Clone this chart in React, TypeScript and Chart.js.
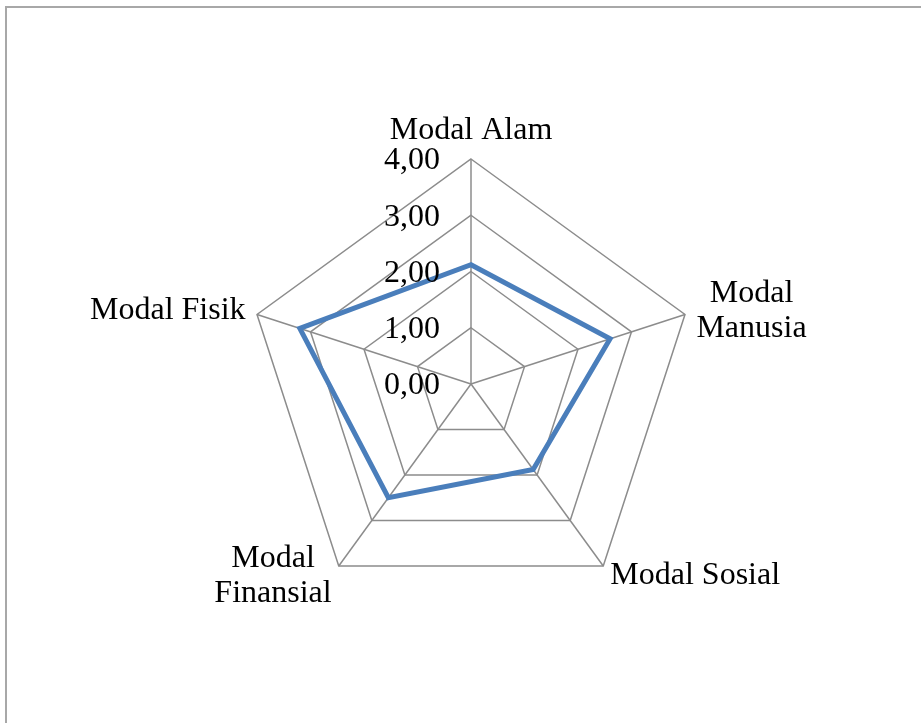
import React, { useEffect, useRef } from "react";
import { Chart, registerables } from "chart.js";

Chart.register(...registerables);

// ---- data ----
const categories: (string | string[])[] = [
  "Modal Alam",
  ["Modal", "Manusia"],
  "Modal Sosial",
  ["Modal", "Finansial"],
  "Modal Fisik",
];
const values = [2.12, 2.6, 1.88, 2.5, 3.2];
const tickValues = [0, 1, 2, 3, 4];
const tickLabels = ["0,00", "1,00", "2,00", "3,00", "4,00"];

const FONT_SIZE = 32;
const FONT = `${FONT_SIZE}px 'Liberation Serif', 'Times New Roman', serif`;
const LINE_H = 35;

const excelLabels = {
  id: "excelLabels",
  afterDatasetsDraw(chart: any) {
    const scale = chart.scales.r;
    const ctx: CanvasRenderingContext2D = chart.ctx;
    ctx.save();
    ctx.font = FONT;
    ctx.fillStyle = "#000000";

    // tick labels, right-aligned left of the vertical axis
    ctx.textAlign = "right";
    ctx.textBaseline = "middle";
    scale.ticks.forEach((t: any) => {
      const idx = tickValues.indexOf(t.value);
      const text = idx >= 0 ? tickLabels[idx] : t.label;
      const d = scale.getDistanceFromCenterForValue(t.value);
      ctx.fillText(text, scale.xCenter - 31, scale.yCenter - d + 2);
    });

    // point labels
    const outer = scale.getDistanceFromCenterForValue(scale.max);
    categories.forEach((cat, i) => {
      const lines = Array.isArray(cat) ? cat : [cat];
      const pos = scale.getPointPosition(i, outer + 12);
      const dx = pos.x - scale.xCenter;
      const dy = pos.y - scale.yCenter;
      const widths = lines.map((l) => ctx.measureText(l).width);
      const bw = Math.max(...widths);
      ctx.textAlign = "center";
      if (Math.abs(dx) < 1) {
        ctx.textBaseline = dy < 0 ? "bottom" : "top";
        lines.forEach((l, k) => {
          const off = dy < 0 ? -(lines.length - 1 - k) * LINE_H : k * LINE_H;
          ctx.fillText(l, pos.x, pos.y + off);
        });
      } else {
        ctx.textBaseline = "middle";
        const cx = dx > 0 ? pos.x + bw / 2 : pos.x - bw / 2;
        const y0 = pos.y - ((lines.length - 1) * LINE_H) / 2;
        lines.forEach((l, k) => {
          ctx.fillText(l, cx, y0 + k * LINE_H);
        });
      }
    });
    ctx.restore();
  },
};

export default function App() {
  const ref = useRef<HTMLCanvasElement | null>(null);

  useEffect(() => {
    document.body.style.margin = "0";
    if (!ref.current) return;
    const chart = new Chart(ref.current, {
      type: "radar",
      data: {
        labels: categories as any,
        datasets: [
          {
            data: values,
            borderColor: "#4a7ebb",
            borderWidth: 5,
            fill: false,
            pointRadius: 0,
            pointHoverRadius: 0,
            tension: 0,
          },
        ],
      },
      options: {
        responsive: false,
        animation: false,
        devicePixelRatio: 1,
        layout: { padding: { left: 246, right: 225, top: 159, bottom: 114 } },
        plugins: { legend: { display: false }, tooltip: { enabled: false } },
        scales: {
          r: {
            min: tickValues[0],
            max: tickValues[tickValues.length - 1],
            ticks: { stepSize: 1, display: false },
            grid: { color: "#8c8c8c", lineWidth: 1.5 },
            angleLines: { color: "#8c8c8c", lineWidth: 1.5 },
            pointLabels: { display: false },
          },
        },
      },
      plugins: [excelLabels],
    });
    return () => chart.destroy();
  }, []);

  return (
    <div
      style={{
        position: "relative",
        width: 921,
        height: 723,
        overflow: "hidden",
        background: "#ffffff",
      }}
    >
      <div
        style={{
          position: "absolute",
          left: 5,
          top: 6,
          width: 940,
          height: 740,
          borderLeft: "2px solid #a8a8a8",
          borderTop: "2px solid #a8a8a8",
        }}
      />
      <canvas
        ref={ref}
        width={921}
        height={723}
        style={{ position: "absolute", left: 0, top: 0, width: 921, height: 723 }}
      />
    </div>
  );
}
